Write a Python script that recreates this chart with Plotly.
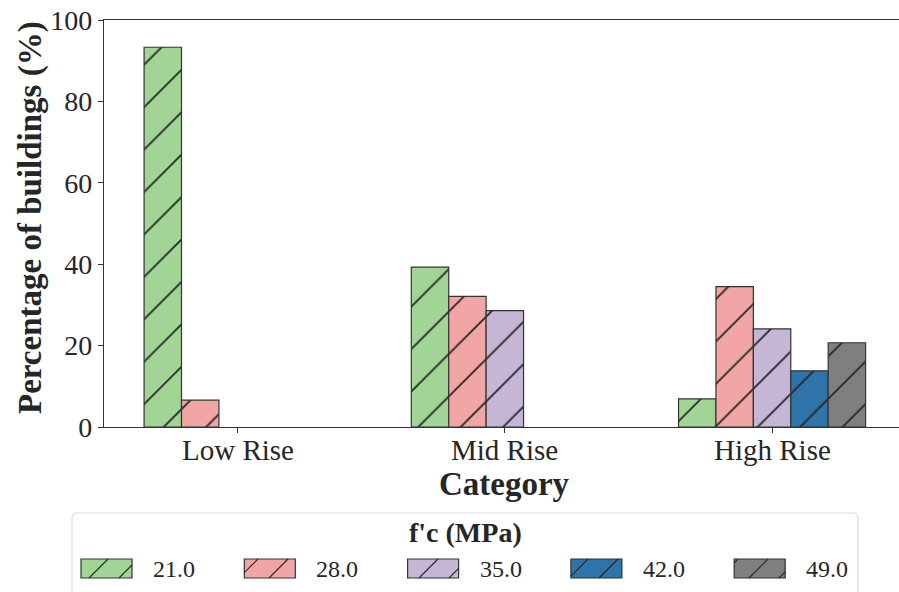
import plotly.graph_objects as go

# Building categories and concrete strength groups
categories = ["Low Rise", "Mid Rise", "High Rise"]
strength_labels = ["21.0", "28.0", "35.0", "42.0", "49.0"]

# Percentage of buildings per category for each f'c group
pct_21 = [93.3, 39.3, 6.9]
pct_28 = [6.6, 32.1, 34.5]
pct_35 = [None, 28.6, 24.1]
pct_42 = [None, None, 13.8]
pct_49 = [None, None, 20.7]

y_ticks = [0, 20, 40, 60, 80, 100]

series = [pct_21, pct_28, pct_35, pct_42, pct_49]
colors = ["#a1d596", "#f2a5a5", "#c4b6d4", "#2f74a8", "#7f7f7f"]
edge = "#333333"
text_color = "#262626"
serif = "Liberation Serif"

W, H = 899, 592
L, R, T, B = 104, 899, 20, 427
PW, PH = R - L, B - T


def fx(px):
    return (px - L) / PW


def fy(py):
    return (B - py) / PH


fig = go.Figure()
for name, vals, col in zip(strength_labels, series, colors):
    fig.add_trace(go.Bar(
        x=categories, y=vals, name=name, showlegend=False,
        marker=dict(
            color=col,
            line=dict(color=edge, width=1.2),
            pattern=dict(shape="/", size=30, solidity=0.06,
                         fgcolor="#262626", bgcolor=col, fillmode="replace"),
        ),
    ))

shapes = []
annotations = []

# Category tick labels just below the axis
for cat in categories:
    annotations.append(dict(
        text=cat, xref="x", yref="paper", x=cat, y=fy(450),
        showarrow=False, xanchor="center", yanchor="middle",
        font=dict(family=serif, size=29, color=text_color)))

# Axis titles
annotations.append(dict(
    text="<b>Percentage of buildings (%)</b>", xref="paper", yref="paper",
    x=fx(30), y=fy(218), textangle=-90, showarrow=False,
    xanchor="center", yanchor="middle",
    font=dict(family=serif, size=33, color=text_color)))
annotations.append(dict(
    text="<b>Category</b>", xref="paper", yref="paper",
    x=fx(504.5), y=fy(484), showarrow=False,
    xanchor="center", yanchor="middle",
    font=dict(family=serif, size=33, color=text_color)))

# Legend frame with rounded corners
bx0, by0, bx1, by1, rad = 72, 513, 858, 610, 5
path = (f"M {fx(bx0 + rad)},{fy(by0)} L {fx(bx1 - rad)},{fy(by0)} "
        f"Q {fx(bx1)},{fy(by0)} {fx(bx1)},{fy(by0 + rad)} "
        f"L {fx(bx1)},{fy(by1 - rad)} Q {fx(bx1)},{fy(by1)} {fx(bx1 - rad)},{fy(by1)} "
        f"L {fx(bx0 + rad)},{fy(by1)} Q {fx(bx0)},{fy(by1)} {fx(bx0)},{fy(by1 - rad)} "
        f"L {fx(bx0)},{fy(by0 + rad)} Q {fx(bx0)},{fy(by0)} {fx(bx0 + rad)},{fy(by0)} Z")
shapes.append(dict(type="path", path=path, xref="paper", yref="paper",
                   line=dict(color="#dcdcdc", width=1.2), fillcolor="white",
                   layer="below"))

annotations.append(dict(
    text="<b>f'c (MPa)</b>", xref="paper", yref="paper",
    x=fx(465), y=fy(532), showarrow=False, xanchor="center", yanchor="middle",
    font=dict(family=serif, size=28, color=text_color)))

# Legend entries: hatched swatch + label
step = 163.3
pw_, ph_ = 51, 19
top_y = 559
for i, (name, col) in enumerate(zip(strength_labels, colors)):
    x0 = 81 + i * step
    x1 = x0 + pw_
    y0, y1 = top_y, top_y + ph_
    shapes.append(dict(type="rect", xref="paper", yref="paper",
                       x0=fx(x0), x1=fx(x1), y0=fy(y1), y1=fy(y0),
                       fillcolor=col, line=dict(color=edge, width=1.2)))
    # diagonal hatch lines on a shared 30px grid, clipped to the swatch
    c = 667
    k_start = int((x0 + y0 - c) // 30) - 1
    for k in range(k_start, k_start + 6):
        s = c + 30 * k  # x + y constant along a "/" line
        xa = max(x0, s - y1)
        xb = min(x1, s - y0)
        if xb - xa > 1:
            shapes.append(dict(type="line", xref="paper", yref="paper",
                               x0=fx(xa), y0=fy(s - xa), x1=fx(xb), y1=fy(s - xb),
                               line=dict(color="#262626", width=1.1)))
    annotations.append(dict(
        text=name, xref="paper", yref="paper",
        x=fx(151 + i * step), y=fy(568.5), showarrow=False,
        xanchor="left", yanchor="middle",
        font=dict(family=serif, size=24, color=text_color)))

fig.update_layout(
    width=W, height=H,
    margin=dict(l=L, r=W - R, t=T, b=H - B, pad=0),
    paper_bgcolor="white", plot_bgcolor="white",
    barmode="group", bargap=0.3, bargroupgap=0,
    font=dict(family=serif, color=text_color),
    shapes=shapes, annotations=annotations,
    showlegend=False,
)
fig.update_xaxes(
    type="category", range=[-0.5, 2.475],
    showline=True, linecolor="#333333", linewidth=1.3, mirror=True,
    ticks="outside", ticklen=5, tickwidth=1.3, tickcolor="#333333",
    showticklabels=False,
    showgrid=False, zeroline=False,
)
fig.update_yaxes(
    range=[0, 100], tickvals=y_ticks,
    showline=True, linecolor="#333333", linewidth=1.3, mirror=False,
    ticks="outside", ticklen=5, tickwidth=1.3, tickcolor="#333333",
    tickfont=dict(family=serif, size=28, color=text_color),
    showgrid=False, zeroline=False,
)

fig.write_html("out.html")
